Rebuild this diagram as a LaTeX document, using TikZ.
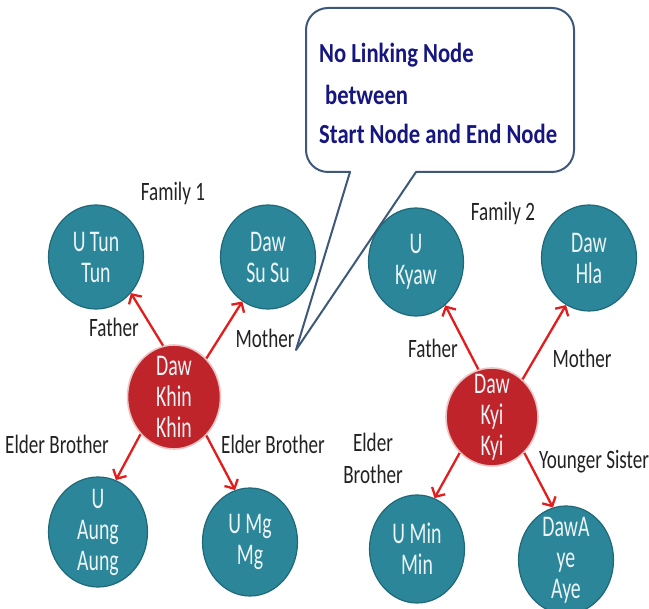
\documentclass[tikz,border=0pt]{standalone}
\usepackage{fontspec}
\usetikzlibrary{shapes.geometric,arrows.meta}
\newfontfamily\namefont[FakeStretch=0.66]{Carlito}
\newfontfamily\relfont[FakeStretch=0.72]{Carlito}
\newfontfamily\notefont[FakeStretch=0.82]{Carlito}
\definecolor{tealfill}{RGB}{44,134,153}
\definecolor{tealedge}{RGB}{30,104,120}
\definecolor{redfill}{RGB}{190,36,42}
\definecolor{rededge}{RGB}{236,196,196}
\definecolor{arrowred}{RGB}{228,28,28}
\definecolor{notenavy}{RGB}{22,22,128}
\definecolor{noteedge}{RGB}{62,88,124}
\definecolor{nametext}{RGB}{236,244,246}
\definecolor{reltext}{RGB}{34,34,34}
\tikzset{
  person/.style={ellipse, fill=tealfill, draw=tealedge, line width=1.2pt,
    inner sep=0pt, minimum width=95pt, minimum height=104pt},
  self/.style={ellipse, fill=redfill, draw=rededge, line width=1.6pt,
    inner sep=0pt, minimum width=93pt, minimum height=104pt},
  nametxt/.style={text=nametext, align=center, inner sep=0pt,
    font=\namefont\fontsize{30}{31}\selectfont},
  reltxt/.style={text=reltext, align=center, inner sep=0pt,
    font=\relfont\fontsize{26.5}{32}\selectfont},
  relarrow/.style={draw=arrowred, line width=2.3pt,
    -{Straight Barb[length=7pt,width=15pt]}},
  notetxt/.style={text=notenavy, align=left, inner sep=0pt, anchor=west,
    font=\notefont\bfseries\fontsize{27.6}{40}\selectfont},
}
\begin{document}
\begin{tikzpicture}[x=1pt,y=-1pt]
\useasboundingbox (0,0) rectangle (649,609);

% speech bubble with its pointer
\draw[draw=noteedge, line width=2pt, fill=white, line join=round]
  (328,8) -- (552,8) arc[start angle=270,end angle=360,radius=22]
  -- (574,150) arc[start angle=0,end angle=90,radius=22]
  -- (416,172) -- (296,350) -- (350,172) -- (328,172)
  arc[start angle=90,end angle=180,radius=22]
  -- (306,30) arc[start angle=180,end angle=270,radius=22] -- cycle;
\node[notetxt] (n1) at (319,55) {No Linking Node};
\node[notetxt] (n2) at (325,95) {between};
\node[notetxt] (n3) at (319,134) {Start Node and End Node};

% family 1
\node[person] (tun)  at (96,257)  {};
\node[person] (susu) at (268,257) {};
\node[self]   (khin) at (174,397) {};
\node[person, minimum width=99pt, minimum height=110pt] (aung) at (98,532) {};
\node[person, minimum height=108pt] (mgmg) at (250,542) {};
\node[nametxt] (tunT)  at (tun)  {U Tun\\Tun};
\node[nametxt] (susuT) at (susu) {Daw\\Su Su};
\node[nametxt] (khinT) at (khin) {Daw\\Khin\\Khin};
\node[nametxt] (aungT) at (aung) {U\\Aung\\Aung};
\node[nametxt] (mgmgT) at (mgmg) {U Mg\\Mg};

\draw[relarrow] (khin.102) -- (tun.314);
\draw[relarrow] (khin.50)  -- (susu.240);
\draw[relarrow] (khin.228) -- (aung.71);
\draw[relarrow] (khin.310) -- (mgmg.106);

\node[reltxt] (fam1) at (173,193) {Family\,1};
\node[reltxt] (f1)   at (114,327) {Father};
\node[reltxt] (m1)   at (265,338) {Mother};
\node[reltxt] (eb1)  at (57,444)  {Elder Brother};
\node[reltxt] (eb2)  at (273,444) {Elder Brother};

% family 2
\node[person, minimum height=108pt] (kyaw) at (416,262) {};
\node[person, minimum height=106pt] (hla)  at (589,258) {};
\node[self, minimum width=92pt, minimum height=98pt] (kyi) at (492,417) {};
\node[person, minimum height=108pt] (minm) at (417,549) {};
\node[person, minimum height=108pt] (aye)  at (566,560) {};
\node[nametxt] (kyawT) at (kyaw) {U\\Kyaw};
\node[nametxt] (hlaT)  at (hla)  {Daw\\Hla};
\node[nametxt] (kyiT)  at (kyi)  {Daw\\Kyi\\Kyi};
\node[nametxt] (minmT) at (minm) {U Min\\Min};
\node[nametxt] (ayeT)  at (aye)  {DawA\\ye\\Aye};

\draw[relarrow] (kyi.106) -- (kyaw.304);
\draw[relarrow] (kyi.51)  -- (hla.244);
\draw[relarrow] (kyi.228) -- (minm.71);
\draw[relarrow] (kyi.312) -- (aye.104);

\node[reltxt] (fam2) at (503,213) {Family\,2};
\node[reltxt] (f2)   at (433,348) {Father};
\node[reltxt] (m2)   at (582,358) {Mother};
\node[reltxt] (eb3)  at (373,458) {Elder\\Brother};
\node[reltxt] (ys)   at (594,462) {Younger Sister};
\end{tikzpicture}
\end{document}
